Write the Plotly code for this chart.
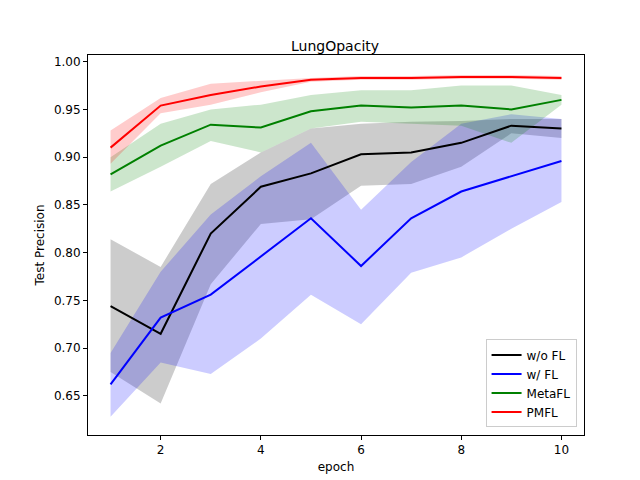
import plotly.graph_objects as go

epochs = list(range(1, 11))

wo_fl = [0.744, 0.715, 0.820, 0.869, 0.883, 0.903, 0.905, 0.915, 0.933, 0.930]
wo_fl_hi = [0.814, 0.785, 0.872, 0.905, 0.930, 0.935, 0.937, 0.938, 0.940, 0.940]
wo_fl_lo = [0.675, 0.642, 0.767, 0.830, 0.835, 0.870, 0.872, 0.890, 0.925, 0.920]

w_fl = [0.662, 0.732, 0.756, 0.796, 0.836, 0.786, 0.836, 0.864, 0.880, 0.896]
w_fl_hi = [0.695, 0.780, 0.840, 0.880, 0.915, 0.845, 0.895, 0.935, 0.945, 0.940]
w_fl_lo = [0.628, 0.685, 0.673, 0.710, 0.756, 0.725, 0.779, 0.795, 0.825, 0.853]

meta = [0.882, 0.912, 0.934, 0.931, 0.948, 0.954, 0.952, 0.954, 0.950, 0.960]
meta_hi = [0.900, 0.935, 0.950, 0.955, 0.965, 0.970, 0.970, 0.975, 0.975, 0.965]
meta_lo = [0.864, 0.890, 0.917, 0.905, 0.930, 0.937, 0.935, 0.933, 0.915, 0.955]

pmfl = [0.910, 0.954, 0.965, 0.974, 0.981, 0.983, 0.983, 0.984, 0.984, 0.983]
pmfl_hi = [0.928, 0.962, 0.977, 0.980, 0.983, 0.985, 0.985, 0.986, 0.986, 0.985]
pmfl_lo = [0.893, 0.946, 0.955, 0.968, 0.979, 0.981, 0.981, 0.982, 0.982, 0.981]

series = [
    ("w/o FL", wo_fl, wo_fl_lo, wo_fl_hi, "black", "rgba(0,0,0,0.2)"),
    ("w/ FL", w_fl, w_fl_lo, w_fl_hi, "blue", "rgba(0,0,255,0.2)"),
    ("MetaFL", meta, meta_lo, meta_hi, "green", "rgba(0,128,0,0.2)"),
    ("PMFL", pmfl, pmfl_lo, pmfl_hi, "red", "rgba(255,0,0,0.2)"),
]

fig = go.Figure()
for name, y, lo, hi, c, fc in series:
    fig.add_trace(go.Scatter(x=epochs, y=lo, mode="lines", line=dict(width=0),
                             showlegend=False, hoverinfo="skip"))
    fig.add_trace(go.Scatter(x=epochs, y=hi, mode="lines", line=dict(width=0),
                             fill="tonexty", fillcolor=fc, showlegend=False, hoverinfo="skip"))
for name, y, lo, hi, c, fc in series:
    fig.add_trace(go.Scatter(x=epochs, y=y, mode="lines", name=name,
                             line=dict(color=c, width=2)))

axis = dict(showgrid=False, zeroline=False, showline=True, mirror=True,
            linecolor="black", linewidth=1, ticks="outside", ticklen=4,
            tickcolor="black", tickfont=dict(size=12, color="black"), automargin=False)
fig.update_layout(
    width=640, height=480,
    paper_bgcolor="white", plot_bgcolor="white",
    font=dict(family="DejaVu Sans", size=12, color="black"),
    title=dict(text="LungOpacity", x=0.511, xanchor="center", y=0.93, font=dict(size=14)),
    margin=dict(l=80, r=64, t=47, b=53),
    xaxis=dict(axis, range=[0.55, 10.45], tickvals=[2, 4, 6, 8, 10],
               title=dict(text="epoch", standoff=6, font=dict(size=12))),
    yaxis=dict(axis, range=[0.609, 1.007], tickvals=[0.65, 0.7, 0.75, 0.8, 0.85, 0.9, 0.95, 1.0],
               tickformat=".2f", title=dict(text="Test Precision", standoff=6, font=dict(size=12))),
    legend=dict(x=0.985, y=0.02, xanchor="right", yanchor="bottom", traceorder="normal",
                bgcolor="rgba(255,255,255,0.8)", bordercolor="#cccccc", borderwidth=1,
                font=dict(size=12)),
)
fig.write_html("out.html")
